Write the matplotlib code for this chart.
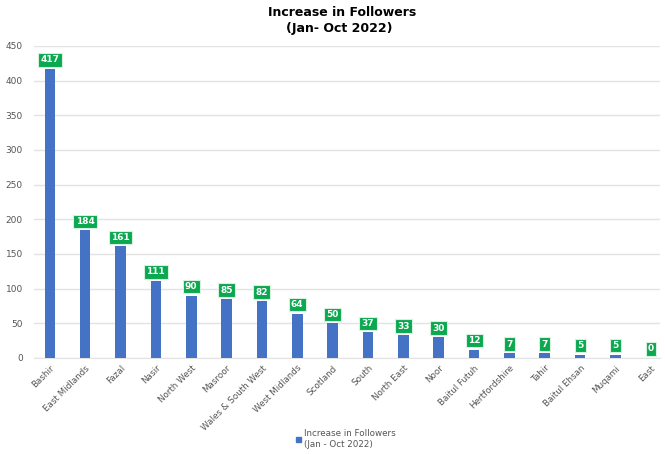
import numpy as np
import matplotlib.pyplot as plt
from matplotlib.patches import Patch

regions = ['Bashir', 'East Midlands', 'Fazal', 'Nasir', 'North West', 'Masroor',
           'Wales & South West', 'West Midlands', 'Scotland', 'South', 'North East',
           'Noor', 'Baitul Futuh', 'Hertfordshire', 'Tahir', 'Baitul Ehsan',
           'Muqami', 'East']
followers = [417, 184, 161, 111, 90, 85, 82, 64, 50, 37, 33, 30, 12, 7, 7, 5, 5, 0]

bar_color = '#4472c4'
label_green = '#0aa84f'

fig = plt.figure(figsize=(6.65, 4.54), dpi=100)
ax = fig.add_axes([0.051, 0.2115, 0.941, 0.6872])

x = np.arange(len(regions))
ax.bar(x, followers, width=0.3, color=bar_color, zorder=3)

# green value boxes above each bar
for xi, v in zip(x, followers):
    ax.annotate(str(v), (xi, v), xytext=(0, 6.5), textcoords='offset points',
                ha='center', va='center', fontsize=6.5, fontweight='bold',
                color='white', zorder=5,
                bbox=dict(boxstyle='square,pad=0.25', fc=label_green, ec='#d8f0e0', lw=0.8))

ax.set_ylim(0, 450)
ax.set_xlim(-0.45, 17.25)
ax.set_yticks(np.arange(0, 451, 50))
ax.set_xticks(x)
ax.set_xticklabels(regions, rotation=45, ha='right', rotation_mode='anchor',
                   fontsize=6.3, color='#555555')
ax.tick_params(axis='y', labelsize=6.5, labelcolor='#555555', length=0, pad=8)
ax.tick_params(axis='x', length=0, pad=4)
ax.grid(axis='y', color='#e3e3e3', linewidth=1, zorder=0)
for s in ['top', 'right', 'left']:
    ax.spines[s].set_visible(False)
ax.spines['bottom'].set_color('#e3e3e3')

fig.text(0.515, 0.972, 'Increase in Followers', ha='center', va='center',
         fontsize=9, fontweight='bold')
fig.text(0.51, 0.937, '(Jan- Oct 2022)', ha='center', va='center',
         fontsize=9, fontweight='bold')

fig.legend(handles=[Patch(color=bar_color)],
           labels=['Increase in Followers\n(Jan - Oct 2022)'],
           loc='center', bbox_to_anchor=(0.52, 0.033), frameon=False,
           fontsize=6.3, handlelength=0.6, handleheight=0.6, handletextpad=0.3,
           labelcolor='#555555')

fig.savefig('out.png', dpi=100)
